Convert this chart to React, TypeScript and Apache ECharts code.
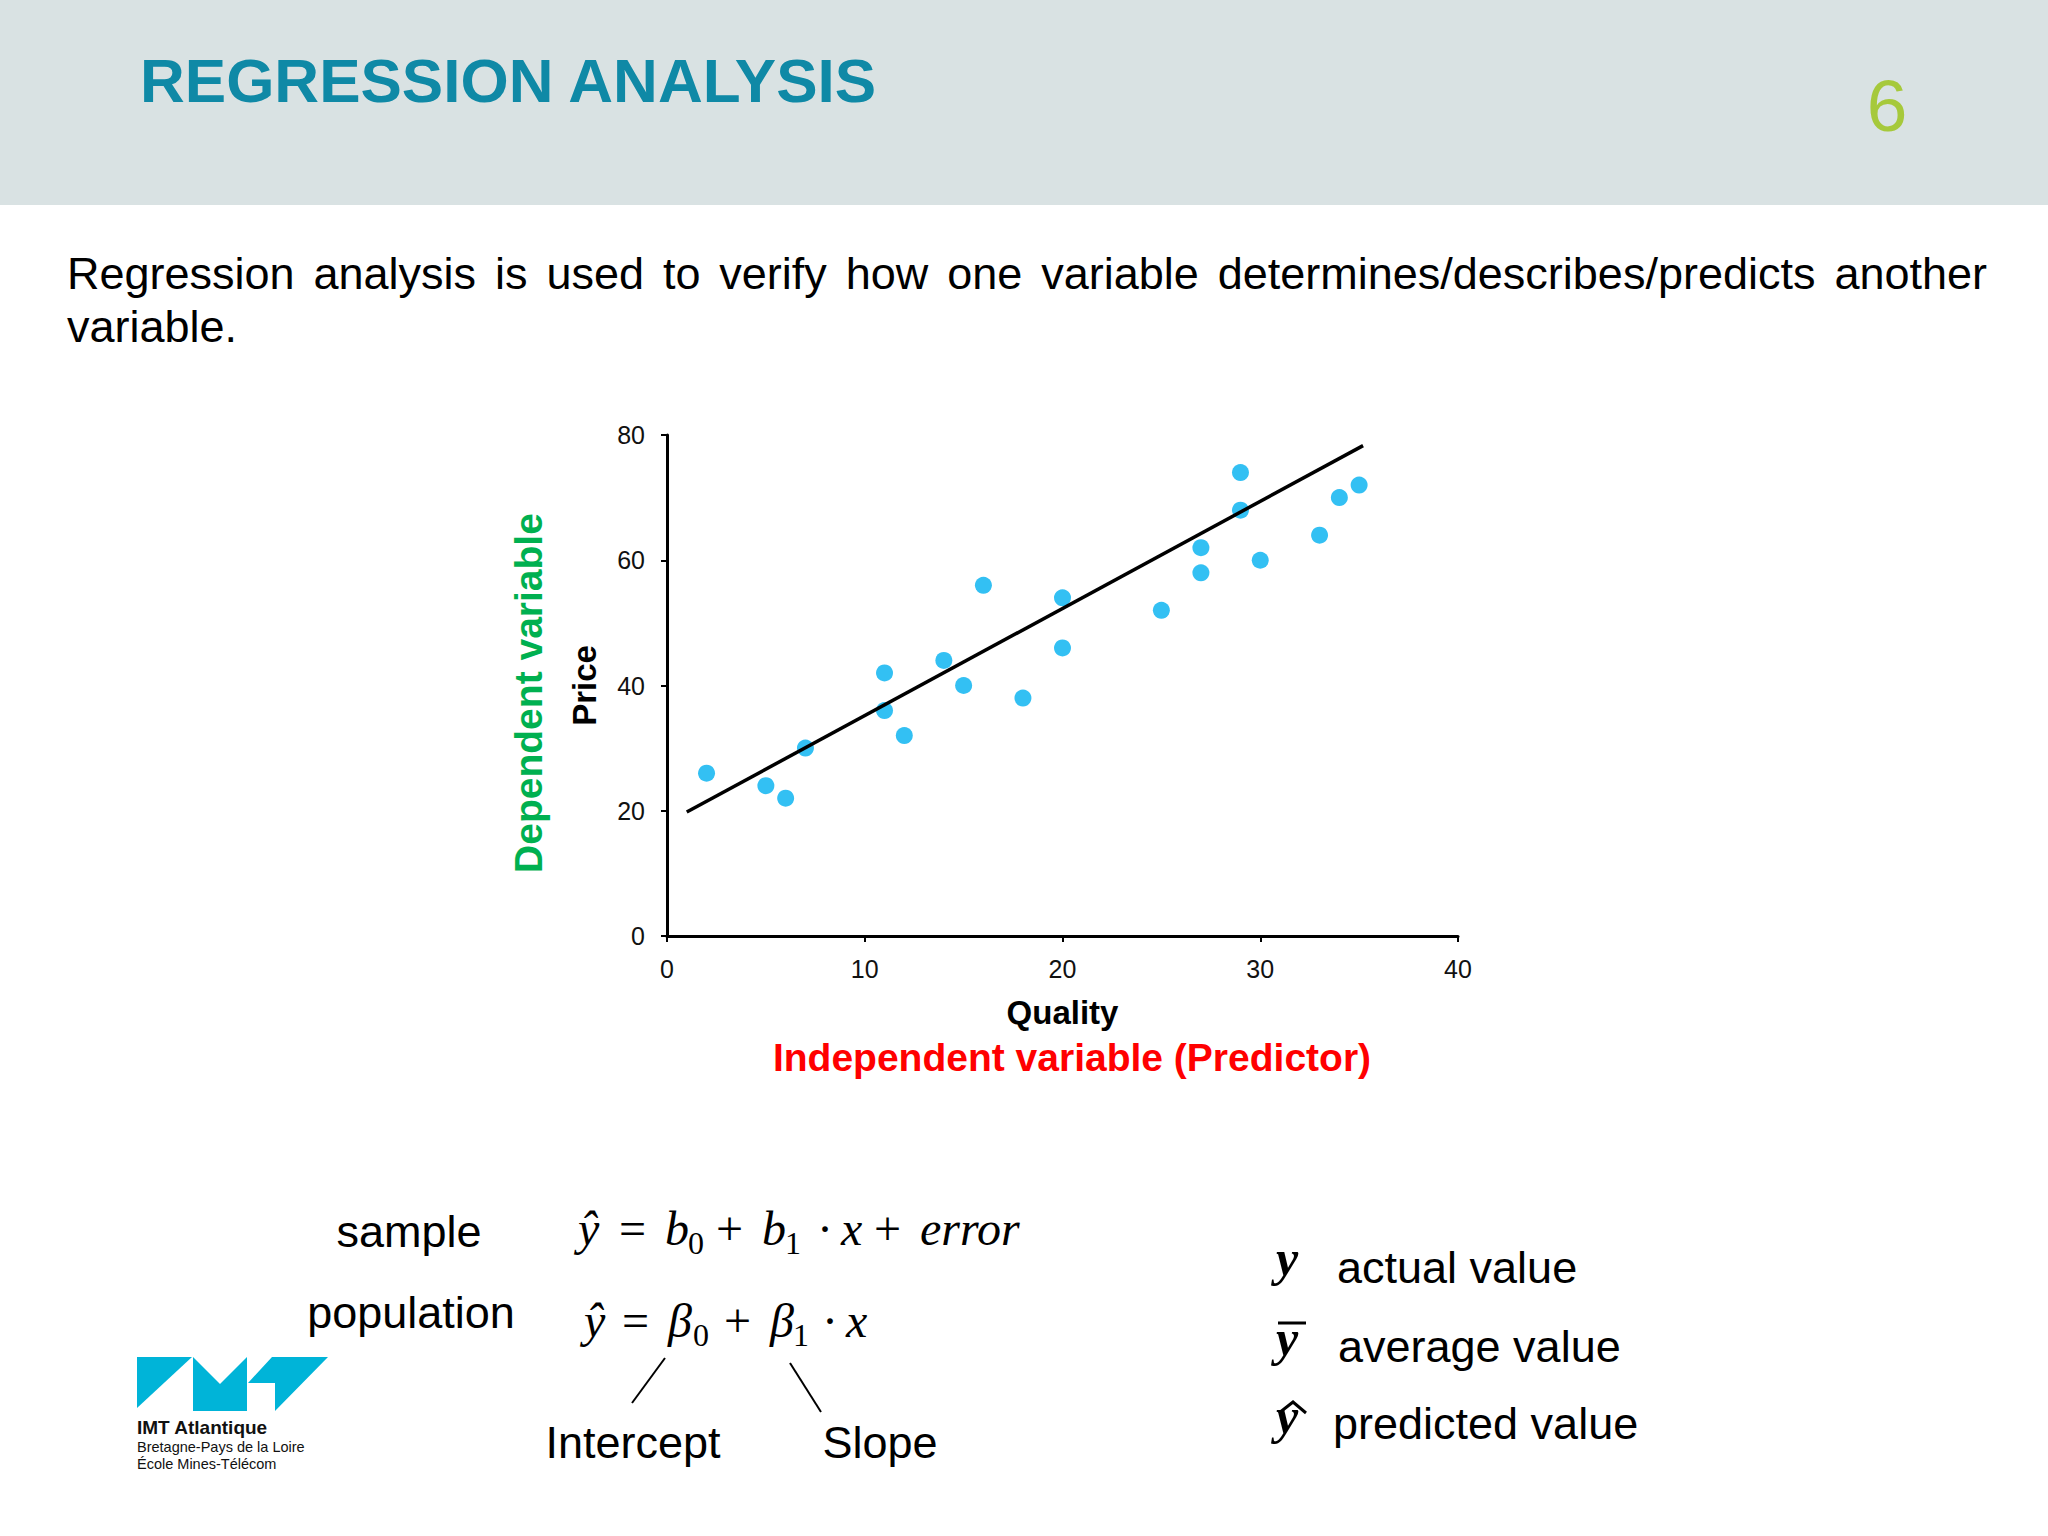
import React, { useEffect, useRef } from "react";
import * as echarts from "echarts";

// ---- data ----
const qualityX = [2, 5, 6, 7, 11, 11, 12, 14, 15, 16, 18, 20, 20, 25, 27, 27, 29, 29, 30, 33, 34, 35];
const priceY = [26, 24, 22, 30, 42, 36, 32, 44, 40, 56, 38, 54, 46, 52, 62, 58, 74, 68, 60, 64, 70, 72];
const trendX = [1, 35.2];
const trendY = [19.8, 78.3];
const xTickValues = [0, 10, 20, 30, 40];
const yTickValues = [0, 20, 40, 60, 80];

const titleText = "REGRESSION ANALYSIS";
const pageNumber = "6";
const paragraphLine1 = "Regression analysis is used to verify how one variable determines/describes/predicts another";
const paragraphLine2 = "variable.";

const SANS = "'Liberation Sans', Arial, sans-serif";
const SERIF = "'Liberation Serif', 'Times New Roman', serif";

const measureCtx = (() => {
  const c = document.createElement("canvas");
  return c.getContext("2d") as CanvasRenderingContext2D;
})();
function textWidth(t: string, font: string) {
  measureCtx.font = font;
  return measureCtx.measureText(t).width;
}
// y of 'middle' anchor from an alphabetic baseline
function mid(baseline: number, fs: number, serif = false) {
  return baseline - (serif ? 0.3375 : 0.3465) * fs;
}

function txt(
  text: string,
  x: number,
  y: number,
  opts: { size: number; family?: string; weight?: string; italic?: boolean; fill?: string; align?: string; rotation?: number }
) {
  const el: any = {
    type: "text",
    x,
    y,
    silent: true,
    style: {
      text,
      fontSize: opts.size,
      fontFamily: opts.family || SANS,
      fontWeight: opts.weight || "normal",
      fontStyle: opts.italic ? "italic" : "normal",
      fill: opts.fill || "#000",
      align: opts.align || "left",
      textAlign: opts.align || "left",
      verticalAlign: "middle",
      textVerticalAlign: "middle",
    },
  };
  if (opts.rotation) el.rotation = opts.rotation;
  return el;
}

function buildGraphics() {
  const g: any[] = [];
  // header band
  g.push({ type: "rect", shape: { x: 0, y: 0, width: 2048, height: 205 }, style: { fill: "#d9e2e3" }, z: -10, silent: true });
  g.push(txt(titleText, 140, mid(102, 62), { size: 62, weight: "bold", fill: "#0f89a6" }));
  g.push(txt(pageNumber, 1887, mid(131, 73), { size: 73, fill: "#a6c93b", align: "center" }));

  // justified paragraph
  const pFont = `45px ${SANS}`;
  const words = paragraphLine1.split(" ");
  const left = 67;
  const right = 1987;
  const widths = words.map((w) => textWidth(w, pFont));
  const total = widths.reduce((a, b) => a + b, 0);
  const gap = (right - left - total) / (words.length - 1);
  let cx = left;
  words.forEach((w, i) => {
    g.push(txt(w, cx, mid(289, 45), { size: 45 }));
    cx += widths[i] + gap;
  });
  g.push(txt(paragraphLine2, left, mid(342, 45), { size: 45 }));

  // colored variable labels
  g.push(txt("Dependent variable", 528, 693, { size: 39, weight: "bold", fill: "#00b050", align: "center", rotation: Math.PI / 2 }));
  g.push(txt("Independent variable (Predictor)", 1072, 1057, { size: 39, weight: "bold", fill: "#ff0000", align: "center" }));

  // sample / population
  g.push(txt("sample", 409, mid(1247, 45), { size: 45, align: "center" }));
  g.push(txt("population", 411, mid(1328, 45), { size: 45, align: "center" }));

  // formulas
  const F = 48;
  const S = 32;
  const formula1: [string, number, boolean, boolean][] = [
    ["ŷ", 578, true, false],
    ["=", 619, false, false],
    ["b", 665, true, false],
    ["0", 688, false, true],
    ["+", 716, false, false],
    ["b", 762, true, false],
    ["1", 785, false, true],
    ["·", 817, false, false],
    ["x", 841, true, false],
    ["+", 874, false, false],
    ["error", 920, true, false],
  ];
  const formula2: [string, number, boolean, boolean][] = [
    ["ŷ", 584, true, false],
    ["=", 622, false, false],
    ["β", 668, true, false],
    ["0", 693, false, true],
    ["+", 724, false, false],
    ["β", 770, true, false],
    ["1", 793, false, true],
    ["·", 822, false, false],
    ["x", 846, true, false],
  ];
  const addFormula = (toks: [string, number, boolean, boolean][], base: number) => {
    toks.forEach(([t, x, it, sub]) => {
      const size = sub ? S : F;
      const b = sub ? base + 9 : base;
      g.push(txt(t, x, mid(b, size, true), { size, family: SERIF, italic: it }));
    });
  };
  addFormula(formula1, 1245);
  addFormula(formula2, 1337);

  // pointer lines
  g.push({ type: "line", shape: { x1: 665, y1: 1358, x2: 632, y2: 1403 }, style: { stroke: "#000", lineWidth: 2 }, silent: true });
  g.push({ type: "line", shape: { x1: 790, y1: 1363, x2: 821, y2: 1412 }, style: { stroke: "#000", lineWidth: 2 }, silent: true });
  g.push(txt("Intercept", 633, mid(1458, 45), { size: 45, align: "center" }));
  g.push(txt("Slope", 880, mid(1458, 45), { size: 45, align: "center" }));

  // legend of symbols
  const YS = 50;
  g.push(txt("y", 1276, mid(1275, YS, true), { size: YS, family: SERIF, weight: "bold", italic: true }));
  g.push(txt("y", 1276, mid(1355, YS, true), { size: YS, family: SERIF, weight: "bold", italic: true }));
  g.push({ type: "line", shape: { x1: 1278, y1: 1323, x2: 1306, y2: 1323 }, style: { stroke: "#000", lineWidth: 3 }, silent: true });
  g.push(txt("y", 1276, mid(1433, YS, true), { size: YS, family: SERIF, weight: "bold", italic: true }));
  g.push({
    type: "polyline",
    shape: { points: [[1279, 1413], [1293, 1402], [1306, 1413]] },
    style: { stroke: "#000", lineWidth: 3, fill: "none" },
    silent: true,
  });
  g.push(txt("actual value", 1337, mid(1283, 45), { size: 45 }));
  g.push(txt("average value", 1338, mid(1362, 45), { size: 45 }));
  g.push(txt("predicted value", 1333, mid(1439, 45), { size: 45 }));

  // logo
  const logoBlue = "#00b4d8";
  g.push({ type: "polygon", shape: { points: [[137, 1357], [192, 1357], [137, 1408]] }, style: { fill: logoBlue }, silent: true });
  g.push({
    type: "polygon",
    shape: { points: [[193, 1357], [220, 1384], [247, 1357], [247, 1411], [193, 1411]] },
    style: { fill: logoBlue },
    silent: true,
  });
  g.push({
    type: "polygon",
    shape: { points: [[248, 1383], [272, 1357], [328, 1357], [275, 1411], [275, 1383]] },
    style: { fill: logoBlue },
    silent: true,
  });
  g.push(txt("IMT Atlantique", 137, mid(1434, 19), { size: 19, weight: "bold", fill: "#111" }));
  g.push(txt("Bretagne-Pays de la Loire", 137, mid(1452, 14.5), { size: 14.5, fill: "#111" }));
  g.push(txt("École Mines-Télécom", 137, mid(1469, 14.5), { size: 14.5, fill: "#111" }));
  return g;
}

export default function App() {
  const ref = useRef<HTMLDivElement>(null);
  useEffect(() => {
    if (!ref.current) return;
    const chart = echarts.init(ref.current, undefined, { renderer: "svg" });
    const axisCommon = {
      type: "value" as const,
      axisLine: { show: true, lineStyle: { color: "#000", width: 3 } },
      axisTick: { show: true, length: 6, lineStyle: { color: "#000", width: 2 } },
      splitLine: { show: false },
    };
    chart.setOption({
      animation: false,
      backgroundColor: "#ffffff",
      grid: { left: 667, right: 590, top: 435, bottom: 600, containLabel: false },
      xAxis: {
        ...axisCommon,
        min: xTickValues[0],
        max: xTickValues[xTickValues.length - 1],
        interval: xTickValues[1] - xTickValues[0],
        axisLabel: { fontSize: 25, color: "#111", fontFamily: SANS, margin: 20 },
        name: "Quality",
        nameLocation: "middle",
        nameGap: 60,
        nameTextStyle: { fontSize: 33, fontWeight: "bold", color: "#000", fontFamily: SANS },
      },
      yAxis: {
        ...axisCommon,
        min: yTickValues[0],
        max: yTickValues[yTickValues.length - 1],
        interval: yTickValues[1] - yTickValues[0],
        axisLabel: { fontSize: 25, color: "#111", fontFamily: SANS, margin: 22 },
        name: "Price",
        nameLocation: "middle",
        nameGap: 66,
        nameTextStyle: { fontSize: 33, fontWeight: "bold", color: "#000", fontFamily: SANS },
      },
      series: [
        {
          type: "scatter",
          data: qualityX.map((x, i) => [x, priceY[i]]),
          symbol: "circle",
          symbolSize: 17,
          itemStyle: { color: "#00b0f0" },
          z: 2,
        },
        {
          type: "line",
          data: trendX.map((x, i) => [x, trendY[i]]),
          symbol: "none",
          lineStyle: { color: "#000", width: 3.5 },
          z: 3,
        },
      ],
      graphic: buildGraphics(),
    });
    return () => chart.dispose();
  }, []);
  return <div ref={ref} style={{ position: "fixed", left: 0, top: 0, width: 2048, height: 1536, background: "#fff" }} />;
}
